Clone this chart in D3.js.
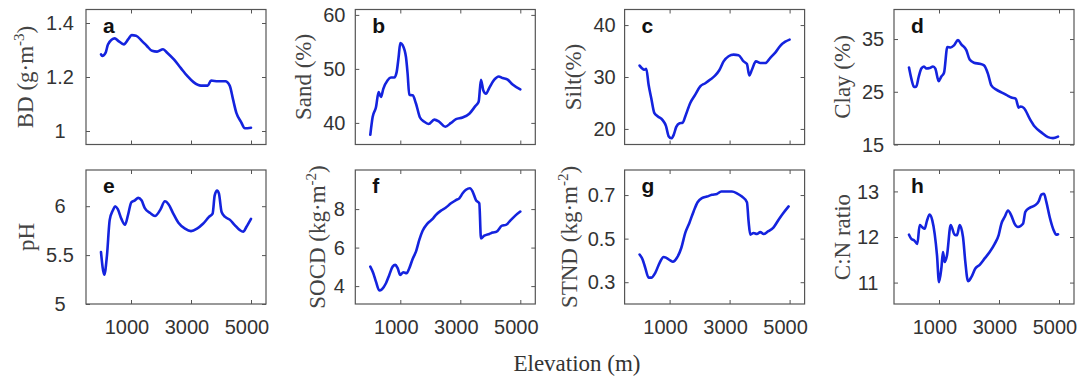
<!DOCTYPE html>
<html>
<head>
<meta charset="utf-8">
<script src="https://cdn.jsdelivr.net/npm/d3@7/dist/d3.min.js"></script>
<style>
  html, body { margin: 0; padding: 0; background: #fff; }
  svg { display: block; }
</style>
</head>
<body>
<svg id="chart" width="1091" height="383"></svg>
<script>
// ---------------- DATA ----------------
const xTicks = [1000, 3000, 5000];
const xTickLabels = ["1000", "3000", "5000"];
const panelLetters = ["a", "b", "c", "d", "e", "f", "g", "h"];

// a: BD
const elevA = [0, 42, 155, 234, 459, 572, 763, 910, 1022, 1169, 1360, 1530, 1700, 1868, 2070, 2205, 2430, 2656, 2882, 3084, 3332, 3558, 3670, 3896, 4144, 4290, 4403, 4515, 4662, 4797, 5000];
const bdValues = [1.284, 1.278, 1.29, 1.321, 1.343, 1.334, 1.321, 1.34, 1.355, 1.353, 1.334, 1.315, 1.297, 1.294, 1.303, 1.29, 1.265, 1.234, 1.203, 1.181, 1.168, 1.168, 1.187, 1.184, 1.184, 1.168, 1.116, 1.066, 1.035, 1.01, 1.012];
const bdTicks = [1, 1.2, 1.4];

// b: Sand
const elevB = [0, 78, 189, 278, 356, 433, 578, 689, 800, 878, 944, 1000, 1078, 1189, 1244, 1300, 1411, 1522, 1656, 1800, 1944, 2133, 2300, 2500, 2689, 2856, 3078, 3300, 3500, 3611, 3689, 3767, 3856, 3967, 4133, 4278, 4411, 4578, 4744, 5000];
const sandValues = [37.8, 41.1, 42.9, 45.7, 44.8, 46.3, 47.9, 48.4, 48.4, 49.4, 52.2, 54.8, 54.4, 52.2, 49.1, 45.2, 45.1, 43.6, 41.0, 40.2, 39.8, 40.6, 40.2, 39.3, 40.0, 40.7, 41.0, 41.7, 43.1, 43.9, 48.0, 46.0, 45.4, 46.5, 48.0, 48.6, 48.3, 48.0, 47.1, 46.2];
const sandTicks = [40, 50, 60];

// c: Silt
const elevC = [0, 78, 156, 222, 300, 389, 489, 611, 767, 878, 967, 1056, 1133, 1222, 1333, 1433, 1522, 1689, 1856, 2022, 2189, 2356, 2522, 2656, 2800, 2967, 3133, 3300, 3467, 3578, 3656, 3744, 3878, 4022, 4189, 4356, 4522, 4689, 4856, 5000];
const siltValues = [32.2, 31.7, 31.4, 31.6, 28.5, 25.9, 23.1, 22.4, 21.7, 20.6, 18.6, 18.2, 18.8, 20.4, 21.1, 21.2, 22.4, 25.0, 26.6, 28.2, 28.8, 29.5, 30.3, 31.3, 33.0, 34.0, 34.3, 34.2, 33.0, 32.5, 30.3, 31.4, 33.0, 32.7, 32.7, 33.7, 34.7, 36.0, 36.8, 37.2];
const siltTicks = [20, 30, 40];

// d: Clay
const elevD = [0, 78, 167, 244, 322, 411, 500, 578, 689, 800, 878, 989, 1078, 1167, 1278, 1389, 1500, 1633, 1744, 1911, 2022, 2167, 2356, 2500, 2633, 2744, 2911, 3078, 3244, 3411, 3556, 3656, 3722, 3833, 4022, 4189, 4411, 4633, 4800, 4967];
const clayValues = [29.6, 27.5, 25.9, 26.0, 27.8, 29.4, 29.8, 29.4, 29.5, 29.8, 29.4, 27.0, 27.9, 28.6, 33.5, 33.4, 33.8, 34.8, 34.0, 32.9, 31.1, 30.5, 30.3, 30.0, 28.4, 26.2, 25.4, 24.9, 24.4, 23.9, 23.7, 22.0, 22.2, 21.9, 19.9, 18.4, 17.3, 16.4, 16.2, 16.5];
const clayTicks = [15, 25, 35];

// e: pH
const elevE = [0, 110, 200, 290, 400, 470, 560, 680, 800, 900, 1010, 1130, 1240, 1350, 1460, 1640, 1800, 1970, 2130, 2250, 2400, 2580, 2800, 3000, 3200, 3400, 3600, 3720, 3790, 3870, 3930, 4020, 4140, 4300, 4450, 4630, 4740, 4850, 5000];
const phValues = [5.53, 5.30, 5.50, 5.86, 5.96, 6.0, 5.97, 5.87, 5.81, 5.91, 6.04, 6.06, 6.085, 6.06, 5.98, 5.93, 5.90, 5.96, 6.05, 6.02, 5.93, 5.83, 5.77, 5.745, 5.77, 5.82, 5.89, 5.925, 6.11, 6.16, 6.13, 5.94, 5.89, 5.86, 5.81, 5.755, 5.74, 5.79, 5.87];
const phTicks = [5, 5.5, 6];

// f: SOCD
const elevF = [0, 100, 189, 300, 389, 522, 633, 744, 833, 911, 1000, 1100, 1211, 1300, 1411, 1522, 1633, 1744, 1911, 2078, 2189, 2356, 2522, 2689, 2856, 2967, 3078, 3189, 3322, 3411, 3522, 3633, 3689, 3800, 3967, 4078, 4211, 4389, 4522, 4689, 4833, 5000];
const socdValues = [5.01, 4.67, 4.23, 3.77, 3.84, 4.15, 4.58, 5.01, 5.10, 4.93, 4.58, 4.72, 4.67, 4.93, 5.41, 5.79, 6.40, 6.87, 7.26, 7.49, 7.70, 7.92, 8.08, 8.30, 8.47, 8.56, 8.82, 9.00, 9.08, 8.91, 8.47, 8.30, 6.48, 6.62, 6.71, 6.78, 6.83, 7.14, 7.18, 7.44, 7.66, 7.87];
const socdTicks = [4, 6, 8];

// g: STND
const elevG = [0, 100, 189, 300, 389, 522, 667, 800, 889, 1022, 1111, 1244, 1389, 1522, 1656, 1800, 1933, 2078, 2244, 2411, 2578, 2722, 2911, 3078, 3244, 3411, 3578, 3633, 3689, 3800, 3911, 4022, 4133, 4278, 4467, 4633, 4767, 4967];
const stndValues = [0.427, 0.404, 0.366, 0.321, 0.321, 0.343, 0.389, 0.416, 0.412, 0.400, 0.394, 0.412, 0.457, 0.526, 0.571, 0.625, 0.667, 0.686, 0.693, 0.701, 0.705, 0.716, 0.716, 0.716, 0.708, 0.693, 0.667, 0.579, 0.518, 0.526, 0.521, 0.530, 0.521, 0.533, 0.552, 0.587, 0.613, 0.648];
const stndTicks = [0.3, 0.5, 0.7];

// h: C:N ratio
const elevH = [0, 78, 167, 278, 356, 433, 522, 600, 689, 778, 856, 933, 1000, 1078, 1133, 1189, 1267, 1389, 1522, 1600, 1689, 1800, 1878, 1967, 2078, 2211, 2356, 2522, 2689, 2856, 2989, 3078, 3189, 3300, 3411, 3522, 3633, 3800, 3878, 4022, 4189, 4322, 4411, 4500, 4578, 4689, 4822, 4911, 4967];
const cnValues = [12.05, 11.96, 11.93, 11.85, 12.26, 12.22, 12.18, 12.36, 12.49, 12.36, 12.07, 11.60, 11.01, 11.31, 11.67, 11.45, 11.60, 12.26, 12.05, 12.04, 12.26, 12.0, 11.45, 11.03, 11.12, 11.31, 11.39, 11.53, 11.67, 11.85, 12.04, 12.29, 12.44, 12.58, 12.47, 12.29, 12.22, 12.29, 12.55, 12.64, 12.69, 12.78, 12.93, 12.95, 12.77, 12.44, 12.15, 12.05, 12.06];
const cnTicks = [11, 12, 13];

// ---------------- LAYOUT ----------------
const panels = [
  { x: elevA, y: bdValues,   ticks: bdTicks,   dom: [0.95, 1.45], label: ["BD (g·m", "-3", ")"], tickOff: -26, labOff: -53 },
  { x: elevB, y: sandValues, ticks: sandTicks, dom: [36, 61],     label: ["Sand (%)"], tickOff: -21, labOff: -44 },
  { x: elevC, y: siltValues, ticks: siltTicks, dom: [17, 43],     label: ["Silt(%)"],  tickOff: -20, labOff: -44 },
  { x: elevD, y: clayValues, ticks: clayTicks, dom: [15, 40.6],   label: ["Clay (%)"], tickOff: -21, labOff: -44 },
  { x: elevE, y: phValues,   ticks: phTicks,   dom: [5, 6.37],    label: ["pH"],       tickOff: -26, labOff: -52 },
  { x: elevF, y: socdValues, ticks: socdTicks, dom: [3.07, 10.03],label: ["SOCD (kg·m", "-2", ")"], tickOff: -16, labOff: -30 },
  { x: elevG, y: stndValues, ticks: stndTicks, dom: [0.2, 0.815], label: ["STND (kg·m", "-2", ")"], tickOff: -23, labOff: -48 },
  { x: elevH, y: cnValues,   ticks: cnTicks,   dom: [10.53, 13.47],label: ["C:N ratio"], tickOff: -26, labOff: -44 }
];

const svg = d3.select("#chart");
const W = 180;
const lefts = [86, 355.3, 624.6, 894];
const tops = [9.5, 170];
const heights = [135, 134];
const lineColor = "rgb(20,35,222)";
const boxColor = "#555";
const textColor = "#333";

panels.forEach((p, i) => {
  const col = i % 4, row = Math.floor(i / 4);
  const L = lefts[col], T = tops[row], H = heights[row];
  const g = svg.append("g").attr("transform", `translate(${L},${T})`);
  const x = d3.scaleLinear().domain([-500, 5500]).range([0, W]);
  const y = d3.scaleLinear().domain(p.dom).range([H, 0]);

  // line
  const line = d3.line().x((d, k) => x(p.x[k])).y(d => y(d)).curve(d3.curveMonotoneX);
  g.append("path").datum(p.y).attr("d", line)
    .attr("fill", "none").attr("stroke", lineColor).attr("stroke-width", 2.6)
    .attr("stroke-linejoin", "round").attr("stroke-linecap", "round");

  // axes with inward ticks
  const tl = 4;
  const ax = [
    d3.axisBottom(x).tickValues(xTicks).tickSize(-tl).tickFormat(""),
    d3.axisTop(x).tickValues(xTicks).tickSize(-tl).tickFormat(""),
    d3.axisLeft(y).tickValues(p.ticks).tickSize(-tl).tickFormat(""),
    d3.axisRight(y).tickValues(p.ticks).tickSize(-tl).tickFormat("")
  ];
  const trans = [`translate(0,${H})`, `translate(0,0)`, `translate(0,0)`, `translate(${W},0)`];
  ax.forEach((a, k) => {
    const ag = g.append("g").attr("transform", trans[k]).call(a);
    ag.select(".domain").remove();
    ag.selectAll(".tick line").attr("stroke", boxColor).attr("stroke-width", 1);
  });

  // box
  g.append("rect").attr("x", 0).attr("y", 0).attr("width", W).attr("height", H)
    .attr("fill", "none").attr("stroke", boxColor).attr("stroke-width", 1.2);

  // y tick labels
  g.selectAll(".ytl").data(p.ticks).enter().append("text")
    .attr("x", p.tickOff).attr("y", d => y(d))
    .attr("dy", "0.36em").attr("text-anchor", "middle")
    .attr("font-family", "Liberation Sans, Arial, sans-serif").attr("font-size", 20)
    .attr("fill", textColor).text(d => String(d));

  // x tick labels (bottom row)
  if (row === 1) {
    g.selectAll(".xtl").data(xTicks).enter().append("text")
      .attr("x", (d) => x(d) - 4).attr("y", H + 30)
      .attr("text-anchor", "middle")
      .attr("font-family", "Liberation Sans, Arial, sans-serif").attr("font-size", 20)
      .attr("fill", textColor).text((d, k) => xTickLabels[k]);
  }

  // panel letter
  g.append("text").attr("x", 17).attr("y", 23)
    .attr("font-family", "Liberation Sans, Arial, sans-serif").attr("font-weight", "bold")
    .attr("font-size", 21).attr("fill", "#111").text(panelLetters[i]);

  // y label
  const yl = svg.append("text")
    .attr("transform", `translate(${L + p.labOff},${T + H / 2}) rotate(-90)`)
    .attr("text-anchor", "middle")
    .attr("font-family", "Liberation Serif, Times New Roman, serif").attr("font-size", 23)
    .attr("fill", "#444");
  yl.append("tspan").text(p.label[0]);
  if (p.label.length > 1) {
    yl.append("tspan").attr("dy", -9).attr("font-size", 15).text(p.label[1]);
    yl.append("tspan").attr("dy", 9).text(p.label[2]);
  }
});

// x axis label
svg.append("text").attr("x", 577).attr("y", 371)
  .attr("text-anchor", "middle")
  .attr("font-family", "Liberation Serif, Times New Roman, serif").attr("font-size", 23)
  .attr("fill", "#333").text("Elevation (m)");
</script>
</body>
</html>
